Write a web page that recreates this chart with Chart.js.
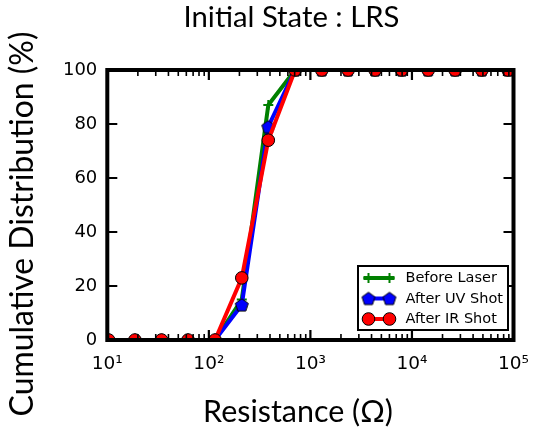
<!DOCTYPE html>
<html><head><meta charset="utf-8">
<script src="https://cdn.jsdelivr.net/npm/chart.js@4/dist/chart.umd.min.js"></script>
<style>html,body{margin:0;padding:0;background:#fff}#wrap{width:533px;height:434px}</style>
</head><body><div id="wrap"><canvas id="c" width="533" height="434"></canvas></div>
<script>
// ---- data ----
const resistance = [10.3, 18.7, 34.2, 62.4, 115, 211, 385, 707, 1295, 2350, 4335, 7950, 14450, 26600, 48800, 88700];
const beforeLaser = [0, 0, 0, 0, 0, 15, 87, 100, 100, 100, 100, 100, 100, 100, 100, 100];
const afterUV     = [0, 0, 0, 0, 0, 13, 79, 100, 100, 100, 100, 100, 100, 100, 100, 100];
const afterIR     = [0, 0, 0, 0, 0, 23, 74, 100, 100, 100, 100, 100, 100, 100, 100, 100];
const seriesLabels = ['Before Laser', 'After UV Shot', 'After IR Shot'];
const xTickValues = [10, 100, 1000, 10000, 100000];
const xTickLabels = ['10\u00b9', '10\u00b2', '10\u00b3', '10\u2074', '10\u2075'];
const yTickValues = [0, 20, 40, 60, 80, 100];
const chartTitle = 'Initial State : LRS';
const xTitle = 'Resistance (\u03a9)';
const yTitle = 'Cumulative Distribution (%)';

function makePentagon(fill, stroke, r) {
  const size = Math.ceil(2 * r + 4);
  const c = document.createElement('canvas'); c.width = size; c.height = size;
  const g = c.getContext('2d');
  const cx = size / 2, cy = size / 2 + 0.6;
  g.beginPath();
  for (let i = 0; i < 5; i++) {
    const a = -Math.PI / 2 + i * 2 * Math.PI / 5;
    const px = cx + r * Math.cos(a), py = cy + r * Math.sin(a);
    if (i) g.lineTo(px, py); else g.moveTo(px, py);
  }
  g.closePath(); g.fillStyle = fill; g.fill();
  g.lineWidth = 1; g.strokeStyle = stroke; g.stroke();
  return c;
}
const pentagon = makePentagon('#0000ff', '#000000', 6.8);

function pts(ys) { return resistance.map((x, i) => ({x: x, y: ys[i]})); }

const TITLE_FONT = 'Lato, "Open Sans", sans-serif';
function fitFont(ctx, text, width, family) {
  ctx.font = '100px ' + family;
  const w = ctx.measureText(text).width;
  return 100 * width / w;
}

const framePlugin = {
  id: 'frame',
  afterDatasetsDraw(chart) {
    const ctx = chart.ctx, a = chart.chartArea;
    const xs = chart.scales.x, ys = chart.scales.y;
    ctx.save();
    ctx.strokeStyle = '#000';
    ctx.lineCap = 'butt';
    ctx.lineWidth = 2.2;
    ctx.beginPath();
    xTickValues.forEach(v => {
      const px = xs.getPixelForValue(v);
      ctx.moveTo(px, a.bottom); ctx.lineTo(px, a.bottom - 10);
      ctx.moveTo(px, a.top); ctx.lineTo(px, a.top + 10);
    });
    yTickValues.forEach(v => {
      const py = ys.getPixelForValue(v);
      ctx.moveTo(a.left, py); ctx.lineTo(a.left + 10, py);
      ctx.moveTo(a.right, py); ctx.lineTo(a.right - 10, py);
    });
    ctx.stroke();
    ctx.lineWidth = 1.6;
    ctx.beginPath();
    for (let d = 0; d < xTickValues.length - 1; d++) {
      for (let k = 2; k <= 9; k++) {
        const px = xs.getPixelForValue(xTickValues[d] * k);
        ctx.moveTo(px, a.bottom); ctx.lineTo(px, a.bottom - 6);
        ctx.moveTo(px, a.top); ctx.lineTo(px, a.top + 6);
      }
    }
    ctx.stroke();
    ctx.lineWidth = 4;
    ctx.strokeRect(a.left, a.top, a.right - a.left, a.bottom - a.top);
    ctx.restore();
  }
};

const textPlugin = {
  id: 'texts',
  afterDraw(chart) {
    const ctx = chart.ctx;
    ctx.save();
    ctx.fillStyle = '#000';
    ctx.textAlign = 'center';
    ctx.textBaseline = 'alphabetic';
    let s = fitFont(ctx, chartTitle, 216, TITLE_FONT);
    ctx.font = s + 'px ' + TITLE_FONT;
    ctx.fillText(chartTitle, 291.5, 27);
    s = fitFont(ctx, xTitle, 190, TITLE_FONT);
    ctx.font = s + 'px ' + TITLE_FONT;
    ctx.fillText(xTitle, 298, 422);
    s = fitFont(ctx, yTitle, 385, TITLE_FONT);
    ctx.font = s + 'px ' + TITLE_FONT;
    ctx.translate(33, 224);
    ctx.rotate(-Math.PI / 2);
    ctx.fillText(yTitle, 0, 0);
    ctx.restore();

    // legend (matplotlib style, inside axes, lower right)
    const a = chart.chartArea;
    const bw = 150, bh = 64;
    const bx = a.right - 5.5 - bw, by = a.bottom - 10 - bh;
    ctx.save();
    ctx.fillStyle = '#fff';
    ctx.fillRect(bx, by, bw, bh);
    ctx.lineWidth = 2; ctx.strokeStyle = '#000';
    ctx.strokeRect(bx, by, bw, bh);
    chart.data.datasets.forEach((ds, i) => {
      const y = by + 12 + i * 20.5;
      const m1 = bx + 10.5, m2 = bx + 31.5;
      ctx.strokeStyle = ds.borderColor; ctx.lineWidth = 4;
      ctx.beginPath(); ctx.moveTo(m1 - (i === 0 ? 5 : 0), y); ctx.lineTo(m2 + (i === 0 ? 5 : 0), y); ctx.stroke();
      [m1, m2].forEach(mx => {
        if (ds.pointStyle === 'cross') {
          const r = ds.pointRadius;
          ctx.strokeStyle = ds.pointBorderColor; ctx.lineWidth = 2;
          ctx.beginPath();
          ctx.moveTo(mx, y - r); ctx.lineTo(mx, y + r);
          ctx.moveTo(mx - r, y); ctx.lineTo(mx + r, y);
          ctx.stroke();
        } else if (ds.pointStyle === 'circle') {
          ctx.beginPath(); ctx.arc(mx, y, ds.pointRadius, 0, 2 * Math.PI);
          ctx.fillStyle = ds.pointBackgroundColor; ctx.fill();
          ctx.lineWidth = ds.pointBorderWidth; ctx.strokeStyle = ds.pointBorderColor; ctx.stroke();
        } else {
          const img = ds.pointStyle;
          ctx.drawImage(img, mx - img.width / 2, y - img.height / 2);
        }
      });
      ctx.fillStyle = '#000';
      ctx.font = '14.5px "DejaVu Sans"';
      ctx.textAlign = 'left'; ctx.textBaseline = 'middle';
      ctx.fillText(ds.label, bx + 47.5, y + 0.5);
    });
    ctx.restore();
  }
};

new Chart(document.getElementById('c'), {
  type: 'line',
  data: {
    datasets: [
      { label: seriesLabels[0], data: pts(beforeLaser), borderColor: '#008000', backgroundColor: '#008000',
        borderWidth: 4, pointStyle: 'cross', pointRadius: 5, pointBorderWidth: 2, pointBorderColor: '#008000',
        pointBackgroundColor: '#008000', order: 3, clip: 0, tension: 0 },
      { label: seriesLabels[1], data: pts(afterUV), borderColor: '#0000ff', backgroundColor: '#0000ff',
        borderWidth: 4, pointStyle: pentagon, pointRadius: 6, pointBorderWidth: 1, pointBorderColor: '#000',
        pointBackgroundColor: '#0000ff', order: 2, clip: 0, tension: 0 },
      { label: seriesLabels[2], data: pts(afterIR), borderColor: '#ff0000', backgroundColor: '#ff0000',
        borderWidth: 4, pointStyle: 'circle', pointRadius: 6.3, pointBorderWidth: 1, pointBorderColor: '#000',
        pointBackgroundColor: '#ff0000', order: 1, clip: 0, tension: 0 }
    ]
  },
  options: {
    responsive: false, animation: false, devicePixelRatio: 1, events: [],
    layout: { padding: { top: 70, right: 19.5, bottom: 0, left: 0 } },
    plugins: { legend: { display: false }, title: { display: false }, tooltip: { enabled: false } },
    scales: {
      x: {
        type: 'logarithmic', min: 10, max: 100000, position: 'bottom',
        grid: { display: false, drawTicks: false }, border: { display: false },
        afterBuildTicks: s => { s.ticks = xTickValues.map(v => ({ value: v, major: true })); },
        afterFit: s => { s.height = 94; s.paddingLeft = 0; s.paddingRight = 0; },
        ticks: {
          autoSkip: false, maxRotation: 0, padding: 13, color: '#000',
          font: { family: '"DejaVu Sans"', size: 18.5 },
          callback: v => { const i = xTickValues.indexOf(v); return i >= 0 ? xTickLabels[i] : ''; }
        }
      },
      y: {
        type: 'linear', min: 0, max: 100, position: 'left',
        grid: { display: false, drawTicks: false }, border: { display: false },
        afterBuildTicks: s => { s.ticks = yTickValues.map(v => ({ value: v })); },
        afterFit: s => { s.width = 107.3; s.paddingTop = 0; s.paddingBottom = 0; },
        ticks: { padding: 10, color: '#000', font: { family: '"DejaVu Sans"', size: 18 } }
      }
    }
  },
  plugins: [framePlugin, textPlugin]
});
</script></body></html>
